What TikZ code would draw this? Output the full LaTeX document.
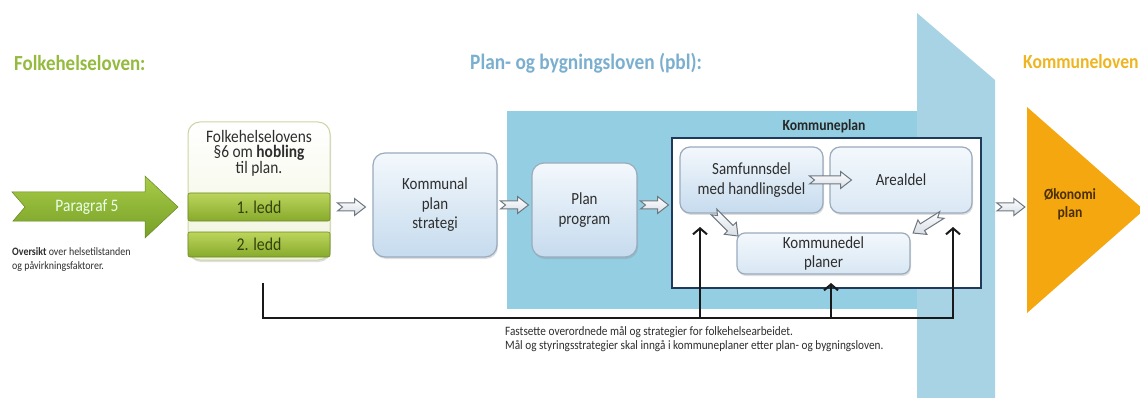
\documentclass[tikz,border=0pt]{standalone}
\usepackage{fontspec}
\setmainfont{Carlito}[FakeStretch=0.88]
\usetikzlibrary{shadows,arrows.meta,calc}
\definecolor{greentitle}{HTML}{94BA3E}
\definecolor{bluetitle}{HTML}{7BAFD0}
\definecolor{goldtitle}{HTML}{EFB520}
\definecolor{orangetri}{HTML}{F5A70F}
\definecolor{blueband}{HTML}{A8D3E5}
\definecolor{bluerect}{HTML}{93CEE2}
\definecolor{boxline}{HTML}{9AABBD}
\definecolor{boxtop}{HTML}{F3F8FC}
\definecolor{boxbot}{HTML}{C6DBEE}
\definecolor{kpline}{HTML}{1F3A5A}
\definecolor{textdark}{HTML}{2E2E2E}
\definecolor{folkfill}{HTML}{F1F4DD}
\definecolor{folkline}{HTML}{CBD6A4}
\definecolor{bartop}{HTML}{BCD55C}
\definecolor{barbot}{HTML}{87AA2C}
\definecolor{bartext}{HTML}{34420C}
\definecolor{partop}{HTML}{A9CB48}
\definecolor{parbot}{HTML}{76A027}
\definecolor{harrowline}{HTML}{6E7780}
\definecolor{harrowfill}{HTML}{D8DEE6}
\definecolor{okotext}{HTML}{4A2E05}
\begin{document}
\begin{tikzpicture}[x=1pt,y=-1pt,
  title/.style={font=\fontsize{21.5}{24}\selectfont\bfseries, anchor=west, inner sep=0pt},
  bluebox/.style={rounded corners=12pt, draw=boxline, line width=1.2pt,
    top color=boxtop, bottom color=boxbot, align=center, text=textdark,
    font=\fontsize{17}{19.5}\selectfont, inner sep=0pt, outer sep=0pt,
    drop shadow={shadow xshift=1pt, shadow yshift=-2pt, opacity=.25}},
  subbox/.style={bluebox, rounded corners=10pt},
  ledbar/.style={draw=barbot!80!black, line width=.6pt, top color=bartop, bottom color=barbot,
    text=bartext, font=\fontsize{18}{20}\selectfont, inner sep=0pt, outer sep=0pt,
    minimum width=142pt, rounded corners=2pt},
  fb/.style={line width=2pt, draw=black!90, line join=miter},
  fbarrow/.style={fb, -{Straight Barb[length=6pt,width=14pt,line width=2pt]}},
  small/.style={font=\fontsize{11.3}{14}\selectfont, text=textdark, align=left, inner sep=0pt},
  pics/harrow/.style={code={
    \draw[line width=1pt, draw=harrowline, top color=white, bottom color=harrowfill, line join=miter]
      ({-#1/2},-4) -- ({#1/2-11},-4) -- ({#1/2-11},-8.5) -- ({#1/2},0) -- ({#1/2-11},8.5)
      -- ({#1/2-11},4) -- ({-#1/2},4) -- ({-#1/2+5},0) -- cycle;
  }}
]
\useasboundingbox (0,0) rectangle (1140,398);
\clip (0,0) rectangle (1140,398);
\fill[white] (0,0) rectangle (1140,398);

% Plan- og bygningsloven background arrow
\fill[blueband] (917,13) -- (995,80) -- (995,400) -- (917,400) -- cycle;
\fill[bluerect] (507,111) rectangle (917,309);

% orange triangle
\fill[orangetri] (1027,107) -- (1144,210) -- (1027,313) -- cycle;

% titles
\node[title, text=greentitle] (t1) at (14,63) {Folkehelseloven:};
\node[title, text=bluetitle, font=\fontsize{22}{24}\selectfont\bfseries] (t2) at (470,63) {Plan- og bygningsloven (pbl):};
\node[title, text=goldtitle, font=\fontsize{20}{24}\selectfont\bfseries] (t3) at (1023,62) {Kommuneloven};

% Paragraf 5 arrow
\shade[top color=partop, bottom color=parbot, draw=parbot!85!black, line width=.5pt]
  (12,192) -- (145,192) -- (145,176) -- (178,207) -- (145,238) -- (145,221) -- (13,221) -- (25,207) -- cycle;
\node[font=\fontsize{17.5}{20}\selectfont, text=white!92!green, inner sep=0pt] (par) at (87,207) {Paragraf 5};
\node[small, anchor=north west] (overs) at (12,247)
  {\textbf{Oversikt} over helsetilstanden\\og påvirkningsfaktorer.};

% Folkehelselovens box
\node[rounded corners=12pt, draw=folkline, line width=1pt, top color=white, bottom color=folkfill,
  minimum width=142pt, minimum height=138pt, inner sep=0pt, outer sep=0pt,
  drop shadow={shadow xshift=1pt, shadow yshift=-2pt, opacity=.25}] (folk) at (259,191) {};
\node[align=center, text=textdark, font=\fontsize{17.5}{15.5}\selectfont, inner sep=0pt] (folktxt) at (259,153)
  {Folkehelselovens\\§6 om \textbf{hobling}\\til plan.};
\node[ledbar, minimum height=28pt] (led1) at (259,207) {1. ledd};
\node[ledbar, minimum height=25pt] (led2) at (259,244.5) {2. ledd};

% Kommunal plan strategi / Plan program
\node[bluebox, minimum width=124pt, minimum height=104pt] (kps) at (435,205) {Kommunal\\plan\\strategi};
\node[bluebox, minimum width=105pt, minimum height=94pt] (pp) at (584.5,210) {Plan\\program};

% Kommuneplan
\node[draw=kpline, line width=2pt, fill=white, minimum width=309pt, minimum height=150pt,
  inner sep=0pt, outer sep=0pt] (kplan) at (826.5,213) {};
\node[font=\fontsize{15.5}{17}\selectfont\bfseries, text=black!85, inner sep=0pt] (kplanlbl) at (824,126) {Kommuneplan};
\node[subbox, minimum width=143pt, minimum height=66pt] (samf) at (751.5,180) {Samfunnsdel\\med handlingsdel};
\node[subbox, minimum width=142pt, minimum height=66pt, top color=boxtop, bottom color=boxbot!55!boxtop] (areal) at (901,180) {Arealdel};
\node[subbox, rounded corners=8pt, minimum width=173pt, minimum height=41pt, top color=boxtop, bottom color=boxbot!60!boxtop] (kdel) at (823.5,253.5) {Kommunedel\\planer};

% Økonomi plan
\node[align=center, text=okotext, font=\fontsize{15.5}{18}\selectfont\bfseries, inner sep=0pt] (oko) at (1070,204) {Økonomi\\plan};
\coordinate (otri) at (1027,207);

% hollow arrows
\path (led1.east) -- (led1.east -| kps.west) pic[pos=.5, sloped, allow upside down] {harrow=28};
\path (kps.east) -- (kps.east -| pp.west) pic[pos=.5, sloped, allow upside down] {harrow=28};
\path ([yshift=5pt]pp.east) -- ([yshift=5pt]pp.east -| kplan.west) pic[pos=.5, sloped, allow upside down] {harrow=28};
\path (kplan.east |- otri) -- (otri) pic[pos=.65, sloped, allow upside down] {harrow=28};
\path (samf.east) -- (areal.west) pic[pos=.5, xshift=4pt, sloped, allow upside down] {harrow=42};
\path ([xshift=35pt]samf.south west) -- ([yshift=-2pt]kdel.north west) pic[pos=.5, sloped, allow upside down] {harrow=34};
\path ([xshift=-27pt]areal.south east) -- ([yshift=-2pt]kdel.north east) pic[pos=.5, sloped, allow upside down] {harrow=34};

% feedback lines
\coordinate (fb0) at ([xshift=4pt,yshift=-23pt]folk.south);
\coordinate (fb1) at ($(fb0)+(0,35)$);
\coordinate (a1) at ([xshift=20pt,yshift=-14pt]samf.south west);
\coordinate (a2) at ([xshift=4.5pt,yshift=5pt]kplan.south);
\coordinate (a3) at ([xshift=-19pt,yshift=-14pt]areal.south east);
\draw[fbarrow] (fb0) |- (a3 |- fb1) -- (a3);
\draw[fbarrow] (a1 |- fb1) -- (a1);
\draw[fbarrow] (a2 |- fb1) -- (a2);

\node[small, anchor=north west, font=\fontsize{12.8}{14}\selectfont] (note) at (505,326)
  {Fastsette overordnede mål og strategier for folkehelsearbeidet.\\
   Mål og styringsstrategier skal inngå i kommuneplaner etter plan- og bygningsloven.};
\end{tikzpicture}
\end{document}
